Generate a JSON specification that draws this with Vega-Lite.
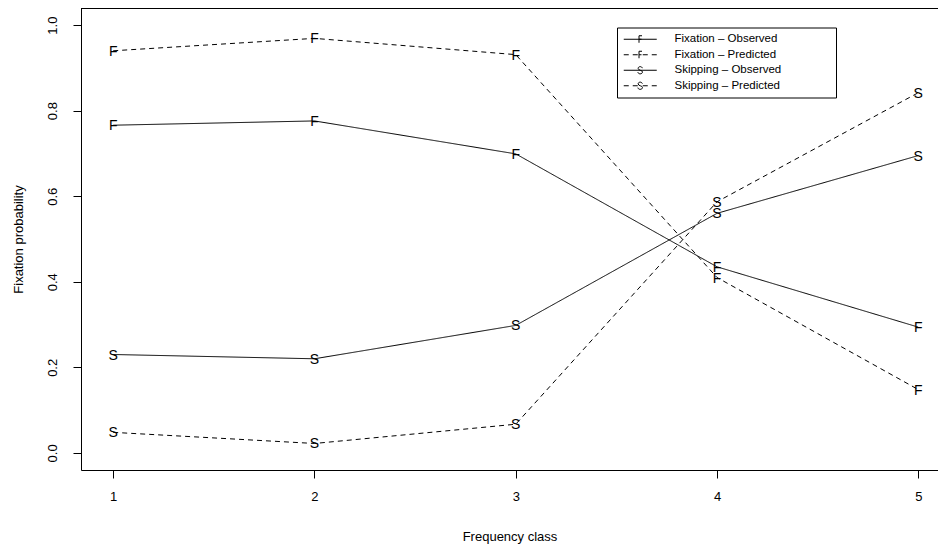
{
  "$schema": "https://vega.github.io/schema/vega-lite/v6.json",
  "autosize": "none",
  "width": 857,
  "height": 462,
  "padding": {"left": 81, "top": 8, "right": 0, "bottom": 75},
  "background": "white",
  "config": {
    "view": {"stroke": null},
    "font": "Liberation Sans",
    "axis": {
      "grid": false,
      "labelFont": "Liberation Sans",
      "titleFont": "Liberation Sans",
      "labelFontSize": 13,
      "titleFontSize": 13,
      "titleFontWeight": "normal",
      "labelColor": "black",
      "titleColor": "black",
      "domainColor": "black",
      "tickColor": "black",
      "tickSize": 8,
      "domainWidth": 1,
      "tickWidth": 1
    },
    "legend": {"labelFont": "Liberation Sans"}
  },
  "data": {
    "values": [
      {"cls": 1, "value": 0.766, "series": "Fixation – Observed", "kind": "Observed", "letter": "F"},
      {"cls": 2, "value": 0.776, "series": "Fixation – Observed", "kind": "Observed", "letter": "F"},
      {"cls": 3, "value": 0.699, "series": "Fixation – Observed", "kind": "Observed", "letter": "F"},
      {"cls": 4, "value": 0.435, "series": "Fixation – Observed", "kind": "Observed", "letter": "F"},
      {"cls": 5, "value": 0.294, "series": "Fixation – Observed", "kind": "Observed", "letter": "F"},
      {"cls": 1, "value": 0.940, "series": "Fixation – Predicted", "kind": "Predicted", "letter": "F"},
      {"cls": 2, "value": 0.969, "series": "Fixation – Predicted", "kind": "Predicted", "letter": "F"},
      {"cls": 3, "value": 0.931, "series": "Fixation – Predicted", "kind": "Predicted", "letter": "F"},
      {"cls": 4, "value": 0.410, "series": "Fixation – Predicted", "kind": "Predicted", "letter": "F"},
      {"cls": 5, "value": 0.148, "series": "Fixation – Predicted", "kind": "Predicted", "letter": "F"},
      {"cls": 1, "value": 0.230, "series": "Skipping – Observed", "kind": "Observed", "letter": "S"},
      {"cls": 2, "value": 0.220, "series": "Skipping – Observed", "kind": "Observed", "letter": "S"},
      {"cls": 3, "value": 0.298, "series": "Skipping – Observed", "kind": "Observed", "letter": "S"},
      {"cls": 4, "value": 0.560, "series": "Skipping – Observed", "kind": "Observed", "letter": "S"},
      {"cls": 5, "value": 0.695, "series": "Skipping – Observed", "kind": "Observed", "letter": "S"},
      {"cls": 1, "value": 0.048, "series": "Skipping – Predicted", "kind": "Predicted", "letter": "S"},
      {"cls": 2, "value": 0.022, "series": "Skipping – Predicted", "kind": "Predicted", "letter": "S"},
      {"cls": 3, "value": 0.067, "series": "Skipping – Predicted", "kind": "Predicted", "letter": "S"},
      {"cls": 4, "value": 0.587, "series": "Skipping – Predicted", "kind": "Predicted", "letter": "S"},
      {"cls": 5, "value": 0.842, "series": "Skipping – Predicted", "kind": "Predicted", "letter": "S"}
    ]
  },
  "encoding": {
    "x": {
      "field": "cls", "type": "quantitative",
      "scale": {"domain": [0.84, 5.098], "nice": false, "zero": false},
      "axis": {"orient": "bottom", "values": [1, 2, 3, 4, 5], "format": "d", "labelPadding": 12, "title": "Frequency class", "titlePadding": 27}
    },
    "y": {
      "field": "value", "type": "quantitative",
      "scale": {"domain": [-0.04, 1.04], "nice": false, "zero": false},
      "axis": {
        "values": [0, 0.2, 0.4, 0.6, 0.8, 1.0],
        "format": ".1f",
        "labelAngle": 270,
        "labelPadding": 14,
        "title": "Fixation probability",
        "titlePadding": 21
      }
    }
  },
  "layer": [
    {
      "mark": {"type": "line", "color": "black", "strokeWidth": 1},
      "encoding": {
        "detail": {"field": "series"},
        "order": {"field": "cls"},
        "strokeDash": {
          "field": "kind", "type": "nominal",
          "scale": {"domain": ["Observed", "Predicted"], "range": [[1, 0], [5, 4]]},
          "legend": null
        }
      }
    },
    {
      "mark": {"type": "text", "color": "black", "font": "Liberation Sans", "fontSize": 14, "baseline": "middle", "align": "center", "dy": 1},
      "encoding": {
        "text": {"field": "letter"}
      }
    },
    {
      "mark": {"type": "rule", "color": "black", "strokeWidth": 1},
      "encoding": {
        "x": {"datum": 0.84, "type": "quantitative"},
        "x2": {"datum": 5.098},
        "y": {"datum": 1.0388, "type": "quantitative"}
      }
    },
    {
      "transform": [{"filter": "false"}],
      "mark": {"type": "point", "filled": false, "color": "black", "strokeWidth": 1, "size": 100, "opacity": 1},
      "encoding": {
        "shape": {
          "field": "series", "type": "nominal",
          "scale": {
            "domain": ["Fixation – Observed", "Fixation – Predicted", "Skipping – Observed", "Skipping – Predicted"],
            "range": [
              "M-1,0H5.6M2.05,0.7V-0.7H2.65M2.05,0H2.55M39.8,0",
              "M-1,0H0M0.8,0H1.8M2.8,0H3.8M4.6,0H5.6M2.05,0.7V-0.7H2.65M2.05,0H2.55M39.8,0",
              "M-1,0H5.6M2.72,-0.42C2.66,-0.62 2.5,-0.72 2.3,-0.72C2.05,-0.72 1.88,-0.58 1.88,-0.37C1.88,0.08 2.74,-0.06 2.74,0.34C2.74,0.58 2.54,0.72 2.29,0.72C2.02,0.72 1.86,0.58 1.83,0.37M39.8,0",
              "M-1,0H0M0.8,0H1.8M2.8,0H3.8M4.6,0H5.6M2.72,-0.42C2.66,-0.62 2.5,-0.72 2.3,-0.72C2.05,-0.72 1.88,-0.58 1.88,-0.37C1.88,0.08 2.74,-0.06 2.74,0.34C2.74,0.58 2.54,0.72 2.29,0.72C2.02,0.72 1.86,0.58 1.83,0.37M39.8,0"
            ]
          },
          "legend": {
            "title": null,
            "orient": "none",
            "legendX": 536,
            "legendY": 19.5,
            "strokeColor": "black",
            "fillColor": "white",
            "padding": 6,
            "labelFontSize": 11.5,
            "labelColor": "black",
            "labelOffset": 40,
            "labelLimit": 400,
            "rowPadding": 2.5,
            "symbolSize": 100,
            "symbolStrokeWidth": 1,
            "symbolStrokeColor": "black",
            "symbolFillColor": "transparent",
            "symbolOpacity": 1
          }
        }
      }
    }
  ]
}
